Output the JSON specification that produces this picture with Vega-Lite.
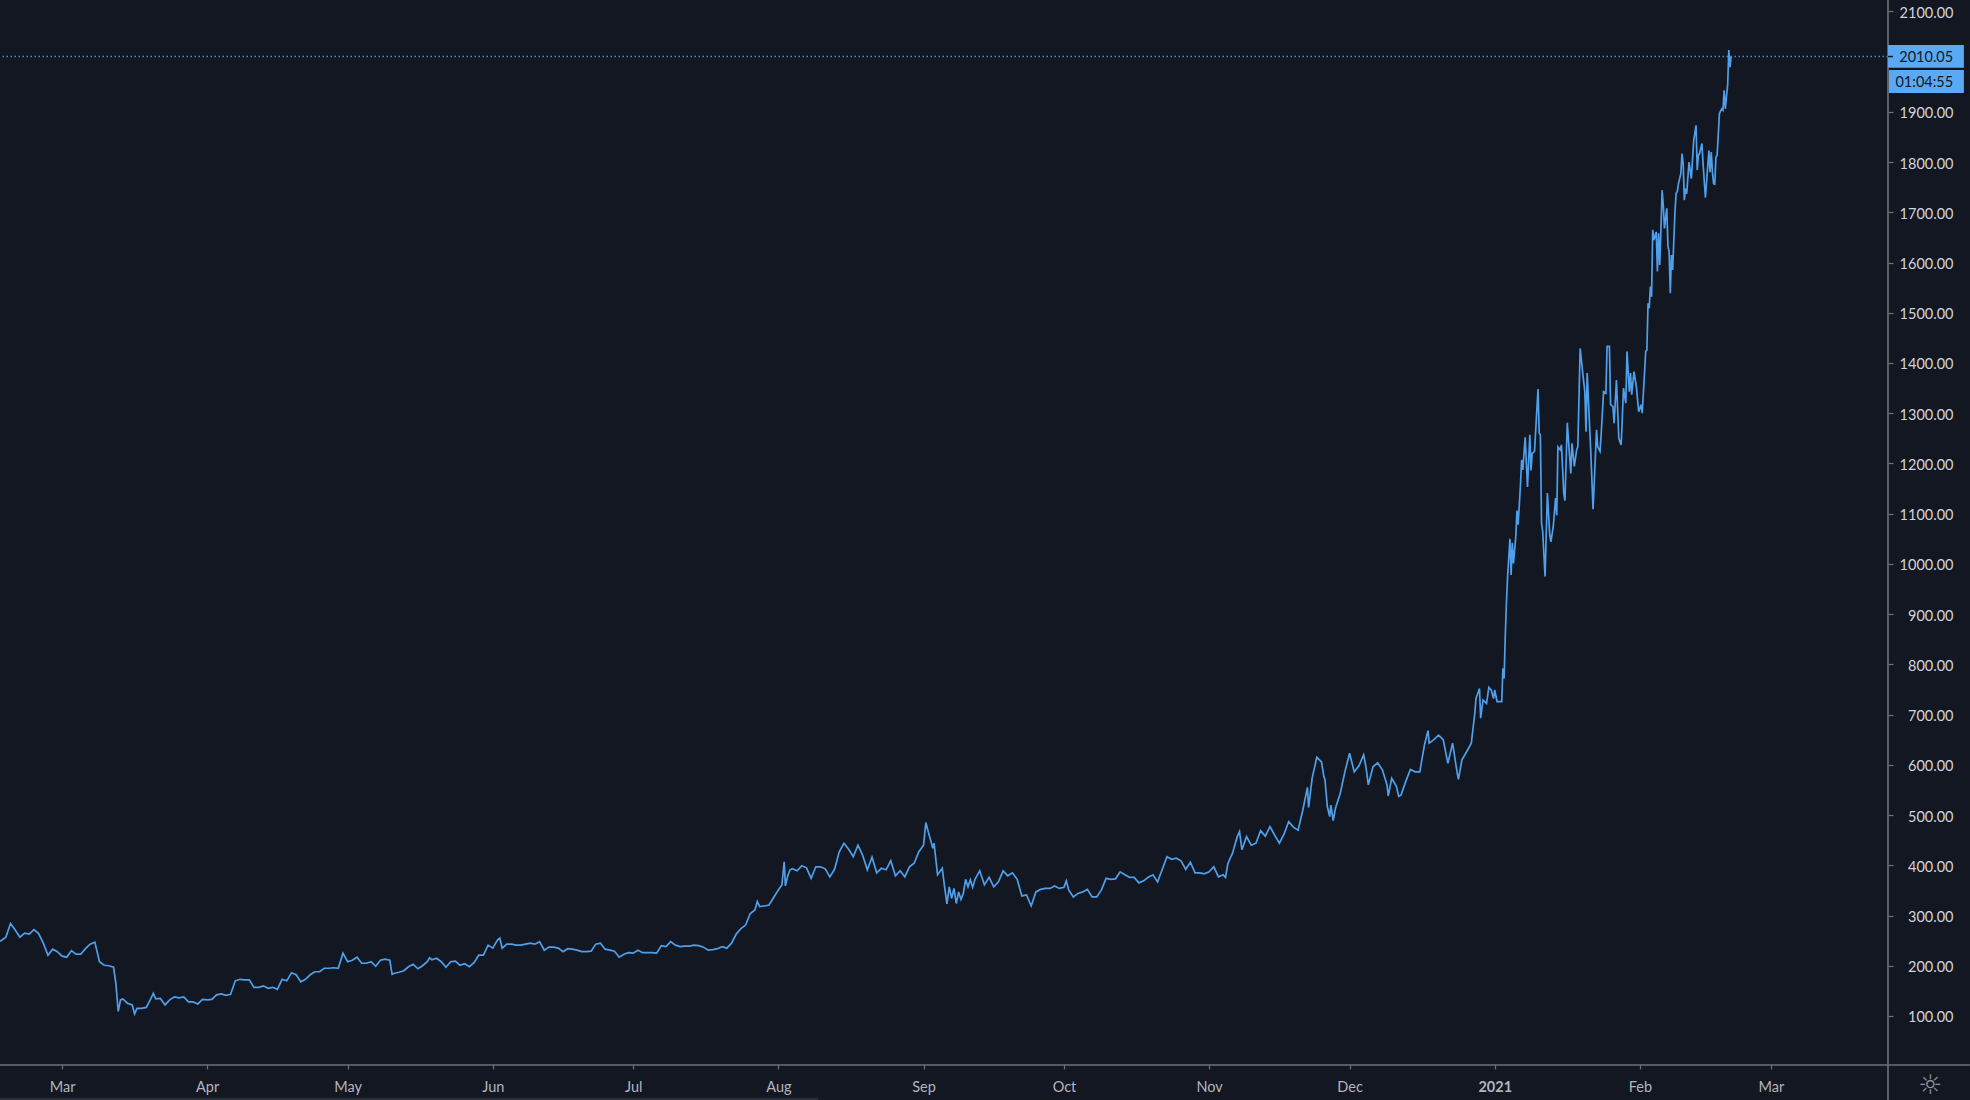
{"$schema":"https://vega.github.io/schema/vega-lite/v6.json","width":1888,"height":1065,"autosize":{"type":"none"},"padding":{"left":0,"top":0,"right":82,"bottom":35},"background":"#131722","view":{"stroke":null},"config":{"font":"Lato"},
"datasets":{"price":[
{"t":"2020-02-16","v":248},{"t":"2020-02-17","v":250},{"t":"2020-02-18","v":257},{"t":"2020-02-19","v":284},{"t":"2020-02-20","v":271},{"t":"2020-02-21","v":257},{"t":"2020-02-22","v":265},{"t":"2020-02-23","v":263},{"t":"2020-02-24","v":272},{"t":"2020-02-25","v":264},{"t":"2020-02-26","v":245},{"t":"2020-02-27","v":221},{"t":"2020-02-28","v":233},{"t":"2020-02-29","v":228},
{"t":"2020-03-01","v":219},{"t":"2020-03-02","v":217},{"t":"2020-03-03","v":230},{"t":"2020-03-04","v":223},{"t":"2020-03-05","v":223},{"t":"2020-03-06","v":234},{"t":"2020-03-07","v":243},{"t":"2020-03-08","v":247},{"t":"2020-03-09","v":208},{"t":"2020-03-10","v":201},{"t":"2020-03-11","v":200},{"t":"2020-03-12","v":197},{"t":"2020-03-12T12:00Z","v":165},{"t":"2020-03-13","v":109},{"t":"2020-03-13T12:00Z","v":132},{"t":"2020-03-14","v":134},{"t":"2020-03-15","v":125},{"t":"2020-03-16","v":122},{"t":"2020-03-16T12:00Z","v":104},{"t":"2020-03-17","v":115},{"t":"2020-03-18","v":115},{"t":"2020-03-19","v":117},{"t":"2020-03-20","v":135},{"t":"2020-03-20T12:00Z","v":145},{"t":"2020-03-21","v":134},{"t":"2020-03-22","v":135},{"t":"2020-03-23","v":122},{"t":"2020-03-24","v":132},{"t":"2020-03-25","v":138},{"t":"2020-03-26","v":136},{"t":"2020-03-27","v":138},{"t":"2020-03-28","v":128},{"t":"2020-03-29","v":128},{"t":"2020-03-30","v":124},{"t":"2020-03-31","v":133},
{"t":"2020-04-01","v":132},{"t":"2020-04-02","v":133},{"t":"2020-04-03","v":142},{"t":"2020-04-04","v":144},{"t":"2020-04-05","v":141},{"t":"2020-04-06","v":143},{"t":"2020-04-07","v":170},{"t":"2020-04-08","v":173},{"t":"2020-04-09","v":172},{"t":"2020-04-10","v":172},{"t":"2020-04-11","v":157},{"t":"2020-04-12","v":157},{"t":"2020-04-13","v":160},{"t":"2020-04-14","v":155},{"t":"2020-04-15","v":157},{"t":"2020-04-16","v":153},{"t":"2020-04-17","v":173},{"t":"2020-04-18","v":170},{"t":"2020-04-19","v":186},{"t":"2020-04-20","v":182},{"t":"2020-04-21","v":168},{"t":"2020-04-22","v":173},{"t":"2020-04-23","v":182},{"t":"2020-04-24","v":188},{"t":"2020-04-25","v":188},{"t":"2020-04-26","v":195},{"t":"2020-04-27","v":195},{"t":"2020-04-28","v":196},{"t":"2020-04-29","v":195},{"t":"2020-04-30","v":225},
{"t":"2020-05-01","v":208},{"t":"2020-05-02","v":211},{"t":"2020-05-03","v":217},{"t":"2020-05-04","v":205},{"t":"2020-05-05","v":205},{"t":"2020-05-06","v":208},{"t":"2020-05-07","v":199},{"t":"2020-05-08","v":211},{"t":"2020-05-09","v":213},{"t":"2020-05-10","v":211},{"t":"2020-05-10T12:00Z","v":183},{"t":"2020-05-11","v":185},{"t":"2020-05-12","v":187},{"t":"2020-05-13","v":190},{"t":"2020-05-14","v":198},{"t":"2020-05-15","v":203},{"t":"2020-05-16","v":194},{"t":"2020-05-17","v":200},{"t":"2020-05-18","v":208},{"t":"2020-05-18T12:00Z","v":216},{"t":"2020-05-19","v":212},{"t":"2020-05-20","v":215},{"t":"2020-05-21","v":208},{"t":"2020-05-22","v":197},{"t":"2020-05-23","v":208},{"t":"2020-05-24","v":209},{"t":"2020-05-25","v":201},{"t":"2020-05-26","v":204},{"t":"2020-05-27","v":198},{"t":"2020-05-28","v":206},{"t":"2020-05-29","v":221},{"t":"2020-05-30","v":221},{"t":"2020-05-31","v":241},
{"t":"2020-06-01","v":235},{"t":"2020-06-02","v":251},{"t":"2020-06-02T12:00Z","v":255},{"t":"2020-06-03","v":235},{"t":"2020-06-04","v":243},{"t":"2020-06-05","v":243},{"t":"2020-06-06","v":241},{"t":"2020-06-07","v":241},{"t":"2020-06-08","v":243},{"t":"2020-06-09","v":245},{"t":"2020-06-10","v":243},{"t":"2020-06-11","v":248},{"t":"2020-06-12","v":231},{"t":"2020-06-13","v":237},{"t":"2020-06-14","v":237},{"t":"2020-06-15","v":235},{"t":"2020-06-16","v":228},{"t":"2020-06-17","v":234},{"t":"2020-06-18","v":233},{"t":"2020-06-19","v":231},{"t":"2020-06-20","v":228},{"t":"2020-06-21","v":228},{"t":"2020-06-22","v":229},{"t":"2020-06-23","v":243},{"t":"2020-06-24","v":245},{"t":"2020-06-25","v":233},{"t":"2020-06-26","v":231},{"t":"2020-06-27","v":229},{"t":"2020-06-28","v":217},{"t":"2020-06-29","v":223},{"t":"2020-06-30","v":226},
{"t":"2020-07-01","v":225},{"t":"2020-07-02","v":231},{"t":"2020-07-03","v":226},{"t":"2020-07-04","v":226},{"t":"2020-07-05","v":226},{"t":"2020-07-06","v":225},{"t":"2020-07-07","v":240},{"t":"2020-07-08","v":238},{"t":"2020-07-09","v":248},{"t":"2020-07-10","v":241},{"t":"2020-07-11","v":238},{"t":"2020-07-12","v":239},{"t":"2020-07-13","v":239},{"t":"2020-07-14","v":241},{"t":"2020-07-15","v":240},{"t":"2020-07-16","v":237},{"t":"2020-07-17","v":231},{"t":"2020-07-18","v":232},{"t":"2020-07-19","v":234},{"t":"2020-07-20","v":238},{"t":"2020-07-21","v":235},{"t":"2020-07-22","v":245},{"t":"2020-07-23","v":263},{"t":"2020-07-24","v":274},{"t":"2020-07-25","v":281},{"t":"2020-07-26","v":304},{"t":"2020-07-27","v":311},{"t":"2020-07-27T12:00Z","v":328},{"t":"2020-07-28","v":318},{"t":"2020-07-29","v":319},{"t":"2020-07-30","v":321},{"t":"2020-07-31","v":336},
{"t":"2020-08-01","v":351},{"t":"2020-08-01T18:00Z","v":361},{"t":"2020-08-02T06:00Z","v":407},{"t":"2020-08-02T12:00Z","v":359},{"t":"2020-08-03","v":379},{"t":"2020-08-03T12:00Z","v":391},{"t":"2020-08-04","v":393},{"t":"2020-08-05","v":389},{"t":"2020-08-06","v":399},{"t":"2020-08-07","v":395},{"t":"2020-08-08","v":374},{"t":"2020-08-09","v":397},{"t":"2020-08-10","v":397},{"t":"2020-08-11","v":393},{"t":"2020-08-12","v":377},{"t":"2020-08-13","v":392},{"t":"2020-08-14","v":427},{"t":"2020-08-15","v":444},{"t":"2020-08-16","v":432},{"t":"2020-08-17","v":417},{"t":"2020-08-18","v":440},{"t":"2020-08-19","v":420},{"t":"2020-08-20","v":391},{"t":"2020-08-21","v":416},{"t":"2020-08-22","v":385},{"t":"2020-08-23","v":394},{"t":"2020-08-24","v":391},{"t":"2020-08-25","v":409},{"t":"2020-08-26","v":379},{"t":"2020-08-27","v":389},{"t":"2020-08-28","v":377},{"t":"2020-08-29","v":397},{"t":"2020-08-30","v":404},{"t":"2020-08-31","v":427},
{"t":"2020-09-01","v":440},{"t":"2020-09-01T12:00Z","v":485},{"t":"2020-09-02","v":467},{"t":"2020-09-03","v":434},{"t":"2020-09-03T06:00Z","v":444},{"t":"2020-09-04","v":381},{"t":"2020-09-05","v":394},{"t":"2020-09-05T12:00Z","v":357},{"t":"2020-09-06","v":323},{"t":"2020-09-06T12:00Z","v":357},{"t":"2020-09-07","v":334},{"t":"2020-09-07T12:00Z","v":354},{"t":"2020-09-08","v":324},{"t":"2020-09-08T12:00Z","v":347},{"t":"2020-09-09","v":332},{"t":"2020-09-09T12:00Z","v":344},{"t":"2020-09-10","v":372},{"t":"2020-09-10T12:00Z","v":357},{"t":"2020-09-11","v":371},{"t":"2020-09-11T12:00Z","v":356},{"t":"2020-09-12","v":372},{"t":"2020-09-13","v":389},{"t":"2020-09-14","v":361},{"t":"2020-09-15","v":376},{"t":"2020-09-16","v":357},{"t":"2020-09-17","v":367},{"t":"2020-09-18","v":389},{"t":"2020-09-19","v":379},{"t":"2020-09-20","v":385},{"t":"2020-09-21","v":372},{"t":"2020-09-22","v":339},{"t":"2020-09-23","v":341},{"t":"2020-09-24","v":319},{"t":"2020-09-25","v":347},{"t":"2020-09-26","v":352},{"t":"2020-09-27","v":354},{"t":"2020-09-28","v":354},{"t":"2020-09-29","v":359},{"t":"2020-09-30","v":354},
{"t":"2020-10-01","v":356},{"t":"2020-10-01T12:00Z","v":369},{"t":"2020-10-02","v":351},{"t":"2020-10-03","v":337},{"t":"2020-10-04","v":344},{"t":"2020-10-05","v":347},{"t":"2020-10-06","v":352},{"t":"2020-10-07","v":337},{"t":"2020-10-08","v":337},{"t":"2020-10-09","v":351},{"t":"2020-10-10","v":374},{"t":"2020-10-11","v":372},{"t":"2020-10-12","v":373},{"t":"2020-10-13","v":387},{"t":"2020-10-14","v":381},{"t":"2020-10-15","v":376},{"t":"2020-10-16","v":376},{"t":"2020-10-17","v":365},{"t":"2020-10-18","v":369},{"t":"2020-10-19","v":376},{"t":"2020-10-20","v":381},{"t":"2020-10-21","v":367},{"t":"2020-10-22","v":392},{"t":"2020-10-23","v":417},{"t":"2020-10-24","v":412},{"t":"2020-10-25","v":414},{"t":"2020-10-26","v":409},{"t":"2020-10-27","v":392},{"t":"2020-10-28","v":406},{"t":"2020-10-29","v":385},{"t":"2020-10-30","v":385},{"t":"2020-10-31","v":383},
{"t":"2020-11-01","v":387},{"t":"2020-11-02","v":397},{"t":"2020-11-03","v":377},{"t":"2020-11-04","v":381},{"t":"2020-11-04T12:00Z","v":376},{"t":"2020-11-05","v":403},{"t":"2020-11-05T12:00Z","v":414},{"t":"2020-11-06","v":424},{"t":"2020-11-07","v":457},{"t":"2020-11-07T12:00Z","v":467},{"t":"2020-11-08","v":431},{"t":"2020-11-09","v":457},{"t":"2020-11-10","v":440},{"t":"2020-11-11","v":444},{"t":"2020-11-12","v":469},{"t":"2020-11-13","v":458},{"t":"2020-11-14","v":477},{"t":"2020-11-15","v":460},{"t":"2020-11-16","v":444},{"t":"2020-11-17","v":462},{"t":"2020-11-18","v":487},{"t":"2020-11-19","v":476},{"t":"2020-11-20","v":470},{"t":"2020-11-21","v":509},{"t":"2020-11-22","v":555},{"t":"2020-11-22T06:00Z","v":515},{"t":"2020-11-23","v":573},{"t":"2020-11-24","v":615},{"t":"2020-11-25","v":606},{"t":"2020-11-25T12:00Z","v":577},{"t":"2020-11-25T18:00Z","v":570},{"t":"2020-11-26T06:00Z","v":517},{"t":"2020-11-26T18:00Z","v":497},{"t":"2020-11-27","v":520},{"t":"2020-11-27T12:00Z","v":489},{"t":"2020-11-28","v":514},{"t":"2020-11-29","v":543},{"t":"2020-11-30","v":586},
{"t":"2020-12-01","v":623},{"t":"2020-12-02","v":586},{"t":"2020-12-03","v":598},{"t":"2020-12-04","v":620},{"t":"2020-12-04T12:00Z","v":596},{"t":"2020-12-05","v":560},{"t":"2020-12-06","v":596},{"t":"2020-12-07","v":604},{"t":"2020-12-08","v":590},{"t":"2020-12-09","v":560},{"t":"2020-12-09T06:00Z","v":538},{"t":"2020-12-10","v":573},{"t":"2020-12-11","v":557},{"t":"2020-12-11T12:00Z","v":537},{"t":"2020-12-12","v":540},{"t":"2020-12-13","v":567},{"t":"2020-12-14","v":591},{"t":"2020-12-15","v":586},{"t":"2020-12-16","v":586},{"t":"2020-12-17","v":640},{"t":"2020-12-17T18:00Z","v":668},{"t":"2020-12-18","v":643},{"t":"2020-12-19","v":650},{"t":"2020-12-20","v":659},{"t":"2020-12-21","v":650},{"t":"2020-12-22","v":603},{"t":"2020-12-23","v":643},{"t":"2020-12-24","v":583},{"t":"2020-12-24T06:00Z","v":571},{"t":"2020-12-25","v":610},{"t":"2020-12-26","v":626},{"t":"2020-12-27","v":643},{"t":"2020-12-27T12:00Z","v":683},{"t":"2020-12-27T18:00Z","v":703},{"t":"2020-12-28","v":732},{"t":"2020-12-28T18:00Z","v":752},{"t":"2020-12-29","v":693},{"t":"2020-12-29T12:00Z","v":729},{"t":"2020-12-30T06:00Z","v":722},{"t":"2020-12-30T18:00Z","v":754},{"t":"2020-12-31T06:00Z","v":749},{"t":"2020-12-31T18:00Z","v":732},
{"t":"2021-01-01","v":749},{"t":"2021-01-01T12:00Z","v":726},{"t":"2021-01-02T06:00Z","v":726},{"t":"2021-01-02T12:00Z","v":726},{"t":"2021-01-02T18:00Z","v":792},{"t":"2021-01-03","v":772},{"t":"2021-01-03T06:00Z","v":855},{"t":"2021-01-03T12:00Z","v":922},{"t":"2021-01-03T18:00Z","v":975},{"t":"2021-01-04T06:00Z","v":1050},{"t":"2021-01-04T12:00Z","v":978},{"t":"2021-01-04T18:00Z","v":1042},{"t":"2021-01-05","v":1001},{"t":"2021-01-05T12:00Z","v":1054},{"t":"2021-01-05T18:00Z","v":1106},{"t":"2021-01-06","v":1078},{"t":"2021-01-06T12:00Z","v":1157},{"t":"2021-01-06T18:00Z","v":1207},{"t":"2021-01-07","v":1187},{"t":"2021-01-07T12:00Z","v":1252},{"t":"2021-01-08","v":1153},{"t":"2021-01-08T12:00Z","v":1257},{"t":"2021-01-08T18:00Z","v":1186},{"t":"2021-01-09","v":1220},{"t":"2021-01-09T12:00Z","v":1224},{"t":"2021-01-10T06:00Z","v":1348},{"t":"2021-01-10T12:00Z","v":1260},{"t":"2021-01-10T18:00Z","v":1257},{"t":"2021-01-11","v":1081},{"t":"2021-01-11T06:00Z","v":1064},{"t":"2021-01-11T18:00Z","v":975},{"t":"2021-01-12T06:00Z","v":1141},{"t":"2021-01-12T18:00Z","v":1058},{"t":"2021-01-13","v":1044},{"t":"2021-01-13T12:00Z","v":1074},{"t":"2021-01-14","v":1131},{"t":"2021-01-14T06:00Z","v":1097},{"t":"2021-01-14T12:00Z","v":1233},{"t":"2021-01-15","v":1227},{"t":"2021-01-15T06:00Z","v":1237},{"t":"2021-01-15T18:00Z","v":1141},{"t":"2021-01-16","v":1126},{"t":"2021-01-16T12:00Z","v":1281},{"t":"2021-01-17T06:00Z","v":1180},{"t":"2021-01-17T12:00Z","v":1240},{"t":"2021-01-18","v":1194},{"t":"2021-01-18T12:00Z","v":1227},{"t":"2021-01-18T18:00Z","v":1233},{"t":"2021-01-19T06:00Z","v":1429},{"t":"2021-01-20","v":1363},{"t":"2021-01-20T06:00Z","v":1343},{"t":"2021-01-20T12:00Z","v":1263},{"t":"2021-01-20T18:00Z","v":1380},{"t":"2021-01-21T12:00Z","v":1227},{"t":"2021-01-22","v":1109},{"t":"2021-01-22T06:00Z","v":1160},{"t":"2021-01-22T18:00Z","v":1267},{"t":"2021-01-23","v":1233},{"t":"2021-01-23T12:00Z","v":1224},{"t":"2021-01-23T18:00Z","v":1260},{"t":"2021-01-24T06:00Z","v":1343},{"t":"2021-01-24T18:00Z","v":1340},{"t":"2021-01-25","v":1433},{"t":"2021-01-25T12:00Z","v":1433},{"t":"2021-01-25T18:00Z","v":1317},{"t":"2021-01-26T06:00Z","v":1313},{"t":"2021-01-26T12:00Z","v":1280},{"t":"2021-01-27","v":1366},{"t":"2021-01-27T12:00Z","v":1250},{"t":"2021-01-28","v":1237},{"t":"2021-01-28T06:00Z","v":1290},{"t":"2021-01-28T12:00Z","v":1350},{"t":"2021-01-29","v":1320},{"t":"2021-01-29T06:00Z","v":1423},{"t":"2021-01-29T18:00Z","v":1343},{"t":"2021-01-30","v":1380},{"t":"2021-01-30T06:00Z","v":1337},{"t":"2021-01-30T18:00Z","v":1383},{"t":"2021-01-31T06:00Z","v":1353},{"t":"2021-01-31T18:00Z","v":1303},
{"t":"2021-02-01T06:00Z","v":1317},{"t":"2021-02-01T12:00Z","v":1300},{"t":"2021-02-02","v":1380},{"t":"2021-02-02T06:00Z","v":1423},{"t":"2021-02-02T12:00Z","v":1426},{"t":"2021-02-02T18:00Z","v":1519},{"t":"2021-02-03","v":1509},{"t":"2021-02-03T06:00Z","v":1552},{"t":"2021-02-03T12:00Z","v":1532},{"t":"2021-02-03T18:00Z","v":1665},{"t":"2021-02-04","v":1645},{"t":"2021-02-04T12:00Z","v":1661},{"t":"2021-02-04T18:00Z","v":1582},{"t":"2021-02-05","v":1658},{"t":"2021-02-05T06:00Z","v":1595},{"t":"2021-02-05T12:00Z","v":1665},{"t":"2021-02-05T18:00Z","v":1744},{"t":"2021-02-06","v":1715},{"t":"2021-02-06T06:00Z","v":1668},{"t":"2021-02-06T18:00Z","v":1708},{"t":"2021-02-07","v":1632},{"t":"2021-02-07T06:00Z","v":1622},{"t":"2021-02-07T12:00Z","v":1539},{"t":"2021-02-07T18:00Z","v":1615},{"t":"2021-02-08","v":1585},{"t":"2021-02-08T12:00Z","v":1701},{"t":"2021-02-08T18:00Z","v":1738},{"t":"2021-02-09","v":1741},{"t":"2021-02-09T06:00Z","v":1757},{"t":"2021-02-09T18:00Z","v":1777},{"t":"2021-02-10","v":1817},{"t":"2021-02-10T06:00Z","v":1797},{"t":"2021-02-10T12:00Z","v":1724},{"t":"2021-02-10T18:00Z","v":1747},{"t":"2021-02-11","v":1737},{"t":"2021-02-11T12:00Z","v":1800},{"t":"2021-02-12","v":1767},{"t":"2021-02-12T12:00Z","v":1843},{"t":"2021-02-13","v":1873},{"t":"2021-02-13T06:00Z","v":1784},{"t":"2021-02-13T12:00Z","v":1813},{"t":"2021-02-13T18:00Z","v":1817},{"t":"2021-02-14T06:00Z","v":1837},{"t":"2021-02-14T12:00Z","v":1797},{"t":"2021-02-15","v":1729},{"t":"2021-02-15T18:00Z","v":1823},{"t":"2021-02-16","v":1780},{"t":"2021-02-16T06:00Z","v":1820},{"t":"2021-02-16T12:00Z","v":1780},{"t":"2021-02-16T18:00Z","v":1757},{"t":"2021-02-17","v":1756},{"t":"2021-02-17T06:00Z","v":1810},{"t":"2021-02-17T12:00Z","v":1813},{"t":"2021-02-18","v":1897},{"t":"2021-02-18T12:00Z","v":1906},{"t":"2021-02-18T18:00Z","v":1903},{"t":"2021-02-19","v":1943},{"t":"2021-02-19T06:00Z","v":1906},{"t":"2021-02-19T12:00Z","v":1930},{"t":"2021-02-19T18:00Z","v":1953},{"t":"2021-02-20","v":2023},{"t":"2021-02-20T06:00Z","v":1989},{"t":"2021-02-20T12:00Z","v":2010.05}
]},
"layer":[
{"data":{"name":"price"},"mark":{"type":"line","stroke":"#4f9fea","strokeWidth":1.7,"strokeJoin":"miter","interpolate":"linear"},
"encoding":{
"x":{"field":"t","type":"temporal","title":null,"scale":{"type":"utc","domain":[{"year":2020,"month":2,"date":16,"hours":18,"utc":true},{"year":2021,"month":3,"date":26,"utc":true}],"nice":false},
"axis":{"orient":"bottom","domain":false,"grid":false,"tickColor":"#6f7278","tickSize":4,"tickWidth":1.2,"labelColor":"#b2b5be","labelFontSize":14.5,"labelPadding":11,"labelFont":"Lato","labelFlush":false,"labelOverlap":false,"labelExpr":"utcmonth(datum.value)==0?utcFormat(datum.value,'%Y'):utcFormat(datum.value,'%b')","labelFontWeight":{"condition":{"test":"utcmonth(datum.value)==0","value":"bold"},"value":"normal"},
"values":[{"year":2020,"month":3,"date":1,"utc":true},{"year":2020,"month":4,"date":1,"utc":true},{"year":2020,"month":5,"date":1,"utc":true},{"year":2020,"month":6,"date":1,"utc":true},{"year":2020,"month":7,"date":1,"utc":true},{"year":2020,"month":8,"date":1,"utc":true},{"year":2020,"month":9,"date":1,"utc":true},{"year":2020,"month":10,"date":1,"utc":true},{"year":2020,"month":11,"date":1,"utc":true},{"year":2020,"month":12,"date":1,"utc":true},{"year":2021,"month":1,"date":1,"utc":true},{"year":2021,"month":2,"date":1,"utc":true},{"year":2021,"month":3,"date":1,"utc":true}]}},
"y":{"field":"v","type":"quantitative","title":null,"scale":{"domain":[2.4,2122.6],"nice":false,"zero":false},
"axis":{"orient":"right","domain":false,"grid":false,"tickColor":"#6f7278","tickSize":5,"tickWidth":1.2,"labelColor":"#d1d4dc","labelFontSize":14.5,"labelFont":"Lato","labelAlign":"right","labelPadding":60,"labelOffset":2,"format":".2f","labelOverlap":false,"labelBound":false,"values":[100,200,300,400,500,600,700,800,900,1000,1100,1200,1300,1400,1500,1600,1700,1800,1900,2100]}}}},
{"data":{"values":[{"price":2010.05}]},"mark":{"type":"rule","stroke":"#4f9fea","strokeWidth":1.5,"strokeDash":[1.5,2.5],"opacity":0.85},"encoding":{"y":{"field":"price","type":"quantitative"}}},
{"data":{"values":[{"a":"2021-03-26","b":"2021-04-12T12:00Z","lo":2.4,"hi":2.4},{"a":"2021-03-26","b":"2021-03-26","lo":-68,"hi":2122.6},{"a":"2020-02-16","b":"2021-03-26","lo":2.4,"hi":2.4}]},"mark":{"type":"rule","stroke":"#6f7278","strokeWidth":1.6},"encoding":{"x":{"field":"a","type":"temporal"},"x2":{"field":"b"},"y":{"field":"lo","type":"quantitative"},"y2":{"field":"hi"}}},
{"data":{"values":[{"a":"2021-03-26","b":"2021-04-11T05:00Z","lo":1987.6,"hi":2033,"c":"#5aa9f5"},{"a":"2021-03-26T05:00Z","b":"2021-04-11T05:00Z","lo":1937.5,"hi":1983.3,"c":"#5aa9f5"},{"a":"2020-02-16","b":"2020-08-09T12:00Z","lo":-68,"hi":-63,"c":"#2a2e39"}]},"mark":{"type":"rect"},"encoding":{"x":{"field":"a","type":"temporal"},"x2":{"field":"b"},"y":{"field":"lo","type":"quantitative"},"y2":{"field":"hi"},"fill":{"field":"c","type":"nominal","scale":null}}},
{"data":{"values":[{"a":"2021-03-26","b":"2021-03-27T02:00Z","y":2010.05}]},"mark":{"type":"rule","stroke":"#131722","strokeWidth":1.5},"encoding":{"x":{"field":"a","type":"temporal"},"x2":{"field":"b"},"y":{"field":"y","type":"quantitative"}}},
{"data":{"values":[{"a":"2021-04-08T22:00Z","y":2007,"s":"2010.05"},{"a":"2021-04-08T22:00Z","y":1957.4,"s":"01:04:55"}]},"mark":{"type":"text","align":"right","baseline":"middle","fontSize":14.5,"font":"Lato","fill":"#131722"},"encoding":{"x":{"field":"a","type":"temporal"},"y":{"field":"y","type":"quantitative"},"text":{"field":"s"}}},
{"data":{"values":[{"a":"2021-04-04","y":-39,"s":"☼"}]},"mark":{"type":"text","align":"center","baseline":"middle","fontSize":27,"font":"DejaVu Sans","fill":"#8f929b"},"encoding":{"x":{"field":"a","type":"temporal"},"y":{"field":"y","type":"quantitative"},"text":{"field":"s"}}}
]}
